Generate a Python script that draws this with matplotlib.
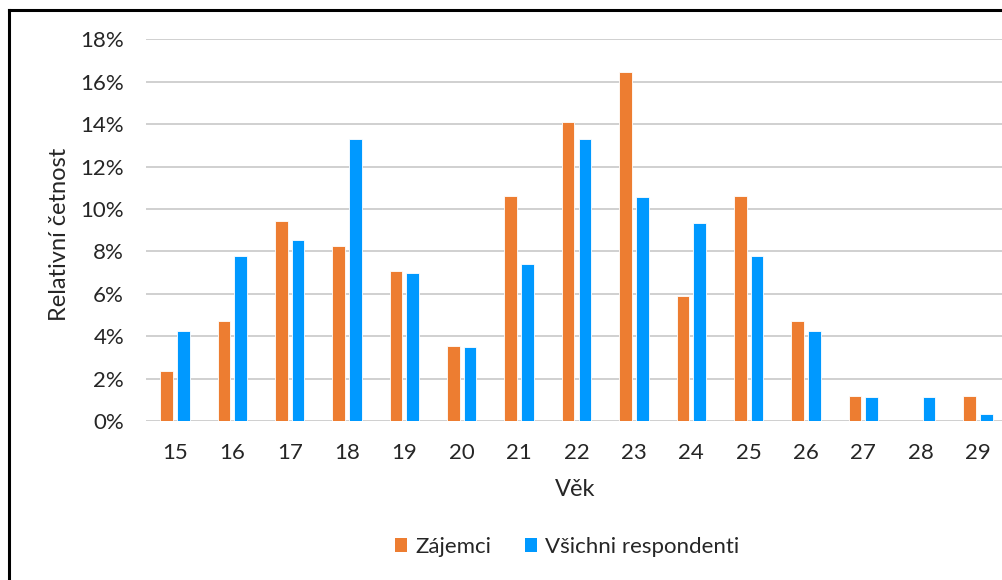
import matplotlib
matplotlib.use("Agg")
import matplotlib.pyplot as plt
import numpy as np
from matplotlib.lines import Line2D
from matplotlib.patches import Patch
from matplotlib.ticker import FuncFormatter

plt.rcParams['font.family'] = ['Lato', 'DejaVu Sans']

ages = ['15', '16', '17', '18', '19', '20', '21', '22', '23', '24', '25', '26', '27', '28', '29']
zajemci = [2.35, 4.71, 9.41, 8.24, 7.06, 3.53, 10.59, 14.12, 16.47, 5.88, 10.59, 4.71, 1.18, 0.0, 1.18]
vsichni = [4.26, 7.77, 8.55, 13.29, 6.97, 3.47, 7.41, 13.29, 10.55, 9.34, 7.77, 4.26, 1.12, 1.12, 0.33]
yticks = [0, 2, 4, 6, 8, 10, 12, 14, 16, 18]

W, H = 1002, 580
fig = plt.figure(figsize=(W / 100, H / 100), dpi=100)

left, right, top, bottom = 146.3, 1006.7, 39.3, 421.0
ax = fig.add_axes([left / W, 1 - bottom / H, (right - left) / W, (bottom - top) / H])

x = np.arange(len(ages))
bw = 0.22
off = 0.146
ax.bar(x - off, zajemci, bw, color='#ED7D31', edgecolor='white', linewidth=0.6, zorder=3, label='Zájemci')
ax.bar(x + off, vsichni, bw, color='#0099FF', edgecolor='white', linewidth=0.6, zorder=3, label='Všichni respondenti')

ax.set_xlim(-0.5, len(ages) - 0.5)
ax.set_ylim(0, 18)
ax.set_yticks(yticks)
ax.yaxis.set_major_formatter(FuncFormatter(lambda v, p: f'{int(v)}%'))
ax.set_xticks(x)
ax.set_xticklabels(ages)
ax.grid(axis='y', color='#D0D0D0', linewidth=1.4, zorder=0)
for s in ax.spines.values():
    s.set_visible(False)
ax.axhline(0, color='#D0D0D0', linewidth=1.4, zorder=2)
ax.tick_params(axis='both', length=0, labelsize=16, colors='#262626')
ax.tick_params(axis='x', pad=16)
ax.tick_params(axis='y', pad=16)

fig.text(575 / W, 1 - 489 / H, 'Věk', ha='center', va='center', fontsize=17, color='#262626')
fig.text(60 / W, 1 - 234 / H, 'Relativní četnost', ha='center', va='center', rotation=90,
         fontsize=17, color='#262626')

handles = [Patch(facecolor='#ED7D31', edgecolor='none', label='Zájemci'),
           Patch(facecolor='#0099FF', edgecolor='none', label='Všichni respondenti')]
fig.legend(handles=handles, loc='center', bbox_to_anchor=(567 / W, 1 - 547 / H), ncol=2,
           frameon=False, fontsize=16, handlelength=0.55, handleheight=0.55, handletextpad=0.35,
           columnspacing=1.5, labelcolor='#262626')

# outer frame (top and left edges visible)
fig.add_artist(Line2D([9 / W, 9 / W], [0, 1 - 10 / H], color='black', linewidth=2.2, transform=fig.transFigure))
fig.add_artist(Line2D([9 / W, 1], [1 - 10 / H, 1 - 10 / H], color='black', linewidth=2.2, transform=fig.transFigure))

fig.savefig('out.png', dpi=100, facecolor='white')
